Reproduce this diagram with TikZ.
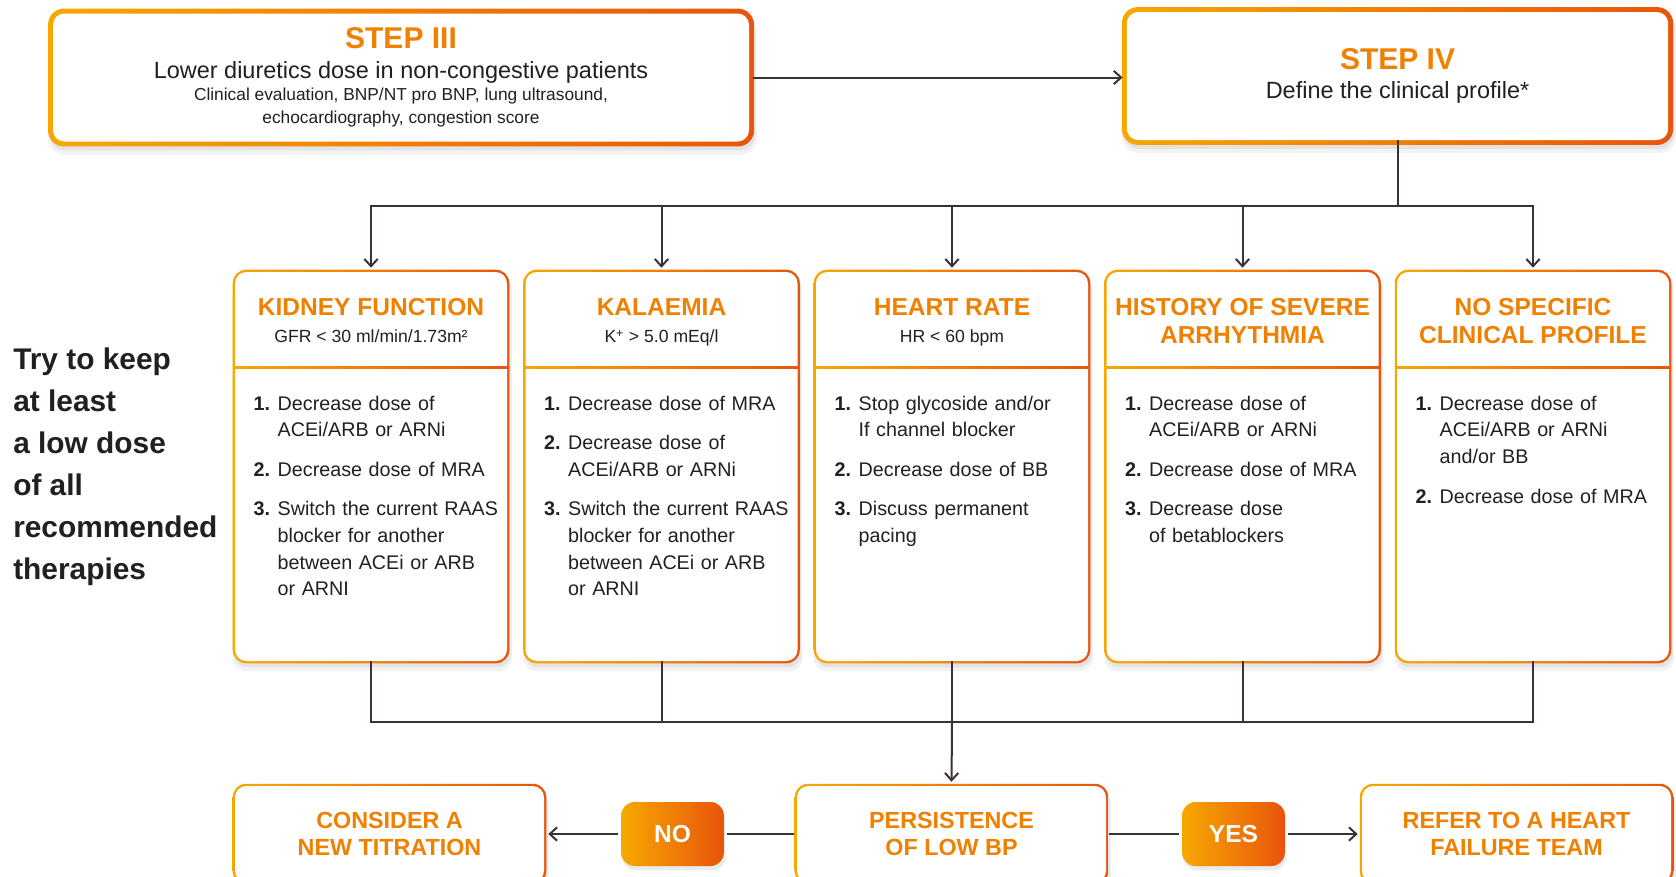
\documentclass[tikz,border=0pt]{standalone}
\usepackage{fontspec}
\setmainfont{Liberation Sans}
\usetikzlibrary{positioning,calc,arrows.meta,backgrounds}

\definecolor{oyellow}{RGB}{246,168,0}
\definecolor{ored}{RGB}{232,84,12}
\definecolor{torange}{RGB}{240,128,0}
\definecolor{tdark}{RGB}{35,31,32}
\definecolor{linegray}{RGB}{58,50,52}

% numbered action with hanging indent
\newcommand{\itm}[2]{{\let\\\newline\hangindent=18pt\hangafter=1\noindent\makebox[18pt][l]{\bfseries #1}#2\par}}
\newcommand{\steptitle}[1]{{\color{torange}\bfseries\fontsize{22.5}{26}\selectfont #1}}

\tikzset{
  stepbox/.style={fill=white, rounded corners=8.5pt, align=center, text=tdark,
    minimum height=96pt, inner sep=0pt, font=\fontsize{13}{17}\selectfont},
  colbox/.style={fill=white, rounded corners=8.5pt, minimum width=204pt, minimum height=291.75pt},
  coltitle/.style={text=torange, font=\bfseries\fontsize{18.4}{21}\selectfont, align=center, inner sep=0pt},
  colsub/.style={text=tdark, font=\fontsize{13.2}{16}\selectfont, inner sep=0pt},
  actions/.style={text width=200pt, inner sep=0pt, text=tdark, font=\fontsize{14.8}{20}\selectfont,
    execute at begin node={\setlength{\parskip}{9.6pt}\raggedright}},
  endbox/.style={fill=white, rounded corners=8.5pt, minimum width=231.75pt, minimum height=72pt,
    align=center, text=torange, font=\bfseries\fontsize{17.5}{20}\selectfont},
  pill/.style={left color=oyellow, right color=ored, rounded corners=10pt, minimum width=77pt,
    minimum height=48pt, text=white, font=\bfseries\fontsize{18.4}{20}\selectfont},
  advice/.style={anchor=north west, inner sep=0pt, align=left, text=tdark,
    font=\bfseries\fontsize{22.4}{31.5}\selectfont},
  conn/.style={draw=linegray, line width=1.5pt},
  >={Straight Barb[length=5.5pt,width=10pt]}
}

\begin{document}
\begin{tikzpicture}[x=0.75pt, y=-0.75pt]
  \useasboundingbox (0,0) rectangle (1676,876);

  % steps III and IV
  \node[stepbox, minimum width=522pt] (s3) at (401,77.5) {\steptitle{STEP III}\\[5pt]
    {\fontsize{17.6}{20}\selectfont Lower diuretics dose in non-congestive patients}\\
    Clinical evaluation, BNP/NT pro BNP, lung ultrasound,\\
    echocardiography, congestion score};
  \node[stepbox, minimum width=406pt] (s4) at (1397.5,76) {\steptitle{STEP IV}\\[5pt]
    {\fontsize{17.6}{20}\selectfont Define the clinical profile*}};

  \node[advice] (advice) at (13,348) {Try to keep\\at least\\a low dose\\of all\\recommended\\therapies};

  % clinical profiles
  \node[colbox] (kidney) at (371,466.5) {};
  \node[colbox] (kalaemia) at (661.5,466.5) {};
  \node[colbox] (heartrate) at (952,466.5) {};
  \node[colbox] (arrhythmia) at (1242.5,466.5) {};
  \node[colbox] (noprofile) at (1533,466.5) {};

  \node[coltitle, below=20pt of kidney.north] (kidneyT) {KIDNEY FUNCTION};
  \node[colsub, below=43.5pt of kidney.north] (kidneyS) {GFR < 30 ml/min/1.73m²};
  \node[actions, below right=93pt and 14pt of kidney.north west] (kidneyL) {%
    \itm{1.}{Decrease dose of\\ACEi/ARB or ARNi}
    \itm{2.}{Decrease dose of MRA}
    \itm{3.}{Switch the current RAAS\\blocker for another\\between ACEi or ARB\\or ARNI}};

  \node[coltitle, below=20pt of kalaemia.north] (kalaemiaT) {KALAEMIA};
  \node[colsub, below=43.5pt of kalaemia.north] (kalaemiaS) {K\textsuperscript{+} > 5.0 mEq/l};
  \node[actions, below right=93pt and 14pt of kalaemia.north west] (kalaemiaL) {%
    \itm{1.}{Decrease dose of MRA}
    \itm{2.}{Decrease dose of\\ACEi/ARB or ARNi}
    \itm{3.}{Switch the current RAAS\\blocker for another\\between ACEi or ARB\\or ARNI}};

  \node[coltitle, below=20pt of heartrate.north] (heartrateT) {HEART RATE};
  \node[colsub, below=43.5pt of heartrate.north] (heartrateS) {HR < 60 bpm};
  \node[actions, below right=93pt and 14pt of heartrate.north west] (heartrateL) {%
    \itm{1.}{Stop glycoside and/or\\If channel blocker}
    \itm{2.}{Decrease dose of BB}
    \itm{3.}{Discuss permanent\\pacing}};

  \node[coltitle, below=20pt of arrhythmia.north] (arrhythmiaT) {HISTORY OF SEVERE\\ARRHYTHMIA};
  \node[actions, below right=93pt and 14pt of arrhythmia.north west] (arrhythmiaL) {%
    \itm{1.}{Decrease dose of\\ACEi/ARB or ARNi}
    \itm{2.}{Decrease dose of MRA}
    \itm{3.}{Decrease dose\\of betablockers}};

  \node[coltitle, below=20pt of noprofile.north] (noprofileT) {NO SPECIFIC\\CLINICAL PROFILE};
  \node[actions, below right=93pt and 14pt of noprofile.north west] (noprofileL) {%
    \itm{1.}{Decrease dose of\\ACEi/ARB or ARNi\\and/or BB}
    \itm{2.}{Decrease dose of MRA}};

  \foreach \c in {kidney,kalaemia,heartrate,arrhythmia,noprofile}
    \shade[left color=oyellow, right color=ored] ($(\c.north west)+(0,-71.2pt)$) rectangle ($(\c.north east)+(0,-72.7pt)$);

  % outcome
  \node[endbox] (consider) at (389.5,834) {CONSIDER A\\NEW TITRATION};
  \node[endbox] (persist) at (951.5,834) {PERSISTENCE\\OF LOW BP};
  \node[endbox] (refer) at (1516.5,834) {REFER TO A HEART\\FAILURE TEAM};
  \node[pill] (no) at (672.5,834) {NO};
  \node[pill] (yes) at (1233.5,834) {YES};

  % connectors
  \draw[conn,->,shorten <=3pt,shorten >=3pt] (s3) -- (s3 -| s4.west);
  \draw[conn] (s4.south) -- ++(0,66) coordinate (fork);
  \draw[conn,<->,shorten <=3pt,shorten >=3pt] (kidney.north) |- (fork) -| (noprofile.north);
  \foreach \c in {kalaemia,heartrate,arrhythmia}
    \draw[conn,->,shorten >=3pt] (\c.north |- fork) -- (\c.north);

  \coordinate (join) at (952,722);
  \draw[conn] (kidney.south) |- (join) -| (noprofile.south);
  \foreach \c in {kalaemia,heartrate,arrhythmia}
    \draw[conn] (\c.south) -- (\c.south |- join);
  \draw[conn,->,shorten >=3pt] (join) -- (persist.north);

  \draw[conn,shorten <=2pt,shorten >=2pt] (persist) -- (no);
  \draw[conn,->,shorten <=2pt,shorten >=3pt] (no) -- (consider);
  \draw[conn,shorten <=2pt,shorten >=2pt] (persist) -- (yes);
  \draw[conn,->,shorten <=2pt,shorten >=3pt] (yes) -- (refer);

  % frames and shadows
  \begin{scope}[on background layer]
    \fill[white] (0,0) rectangle (1676,876);
    \foreach \n/\w/\r in {s3/3.5pt/12pt, s4/3.5pt/12pt, kidney/1.5pt/10pt, kalaemia/1.5pt/10pt,
        heartrate/1.5pt/10pt, arrhythmia/1.5pt/10pt, noprofile/1.5pt/10pt,
        consider/1.5pt/10pt, persist/1.5pt/10pt, refer/1.5pt/10pt}{
      \fill[black, opacity=0.05, rounded corners=\r] ($(\n.south west)+(-\w,-\w-6pt)$) rectangle ($(\n.north east)+(\w+2pt,\w-6pt)$);
      \fill[black, opacity=0.06, rounded corners=\r] ($(\n.south west)+(-\w+1pt,-\w-3pt)$) rectangle ($(\n.north east)+(\w+1pt,\w-3pt)$);
      \shade[left color=oyellow, right color=ored, rounded corners=\r] ($(\n.south west)-(\w,\w)$) rectangle ($(\n.north east)+(\w,\w)$);
    }
    \foreach \n in {no,yes}
      \fill[black, opacity=0.08, rounded corners=10pt] ($(\n.south west)+(1pt,-3pt)$) rectangle ($(\n.north east)+(1pt,-3pt)$);
  \end{scope}
\end{tikzpicture}
\end{document}
